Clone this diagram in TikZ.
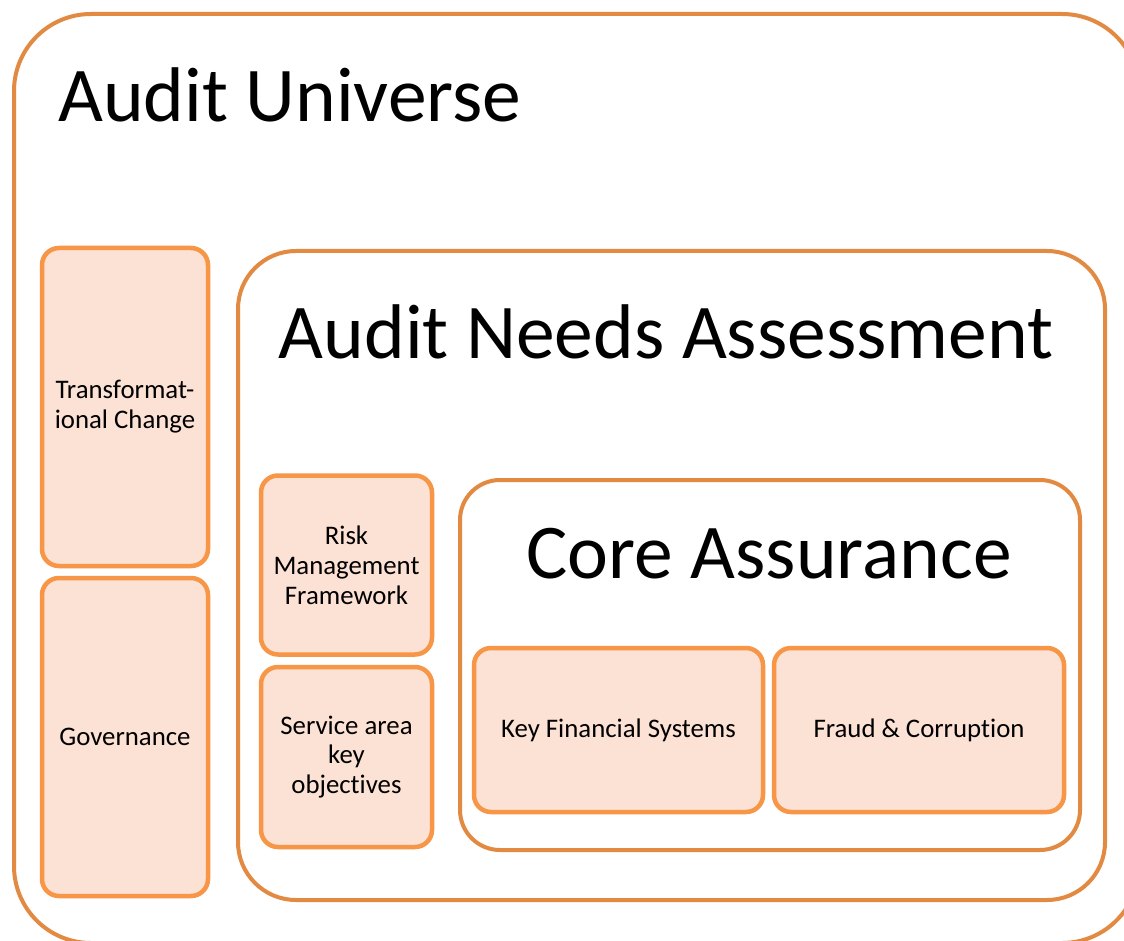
\documentclass[tikz,border=0pt]{standalone}
\usepackage{fontspec}
\setmainfont{Carlito}[Ligatures=NoCommon]
\definecolor{outerc}{RGB}{226,138,66}
\definecolor{innerc}{RGB}{247,150,70}
\definecolor{fillc}{RGB}{252,225,213}
\begin{document}
\begin{tikzpicture}[x=1pt,y=-1pt,
  bigbox/.style={draw=outerc,line width=4pt,fill=white,rectangle,inner sep=0pt},
  smallbox/.style={draw=innerc,line width=4.5pt,fill=fillc,rectangle,inner sep=0pt,rounded corners=17pt,align=center,font=\fontsize{26.8}{29.8}\selectfont},
  title/.style={inner sep=0pt,font=\fontsize{77.5}{82}\selectfont}]
\useasboundingbox (0,0) rectangle (1124,941);
\clip (0,0) rectangle (1124,941);
\node[bigbox,rounded corners=77pt,minimum width=1125pt,minimum height=929pt] (universe) at (576.5,478.5) {};
\node[title,anchor=base west] (tuniverse) at (58,122) {Audit Universe};
\node[smallbox,minimum width=166pt,minimum height=318pt] (trans) at (125,407) {Transformat-\\ional Change};
\node[smallbox,minimum width=166pt,minimum height=318pt] (gov) at (125,737) {Governance};
\node[bigbox,rounded corners=58pt,minimum width=867pt,minimum height=649pt] (needs) at (671.5,575.5) {};
\node[title,anchor=base] (tneeds) at (666,358) {Audit Needs Assessment};
\node[smallbox,minimum width=171pt,minimum height=179pt] (risk) at (346.5,565) {Risk\\Management\\Framework};
\node[smallbox,minimum width=171pt,minimum height=180pt] (service) at (346.5,757) {Service area\\key\\objectives};
\node[bigbox,rounded corners=40pt,minimum width=620pt,minimum height=370pt] (core) at (770,665) {};
\node[title,anchor=base] (tcore) at (769,578) {Core Assurance};
\node[smallbox,minimum width=289pt,minimum height=164pt] (kfs) at (618.5,730) {Key Financial Systems};
\node[smallbox,minimum width=290pt,minimum height=164pt] (fraud) at (919,730) {Fraud \& Corruption};
\end{tikzpicture}
\end{document}
